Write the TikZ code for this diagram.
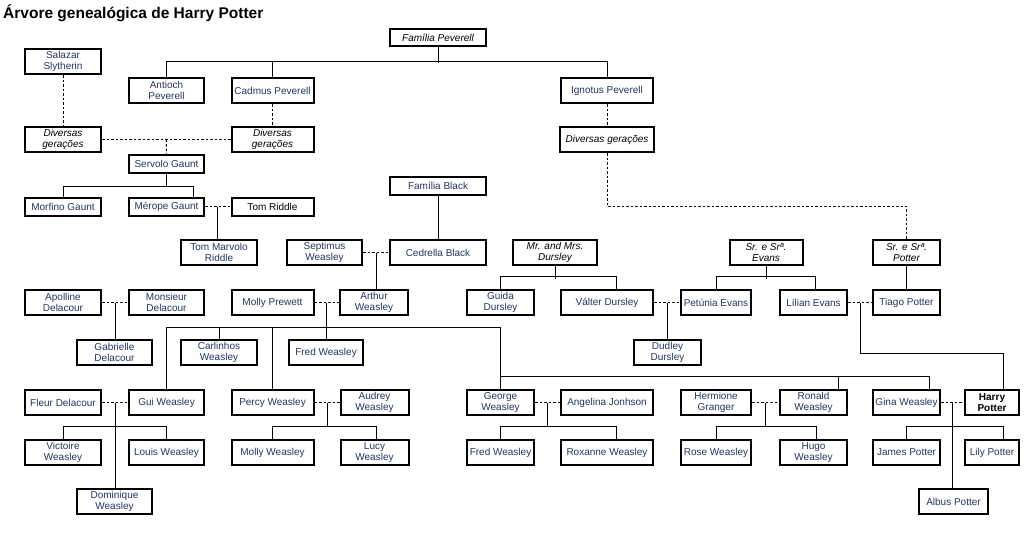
\documentclass[tikz,border=0pt]{standalone}
\usepackage{fontspec}
\setmainfont{Liberation Sans}
\usetikzlibrary{calc}
\definecolor{nameblue}{RGB}{38,52,96}
\newcommand{\namesize}{\fontsize{10}{10.5}\selectfont}
\begin{document}
\begin{tikzpicture}[x=1pt,y=-1pt,
	member/.style={draw, line width=2pt, fill=white, minimum width=#1, minimum height=25, inner sep=1pt, align=center, text=nameblue, font=\namesize},
	member/.default=76,
	short/.style={member=#1, minimum height=18},
	group/.style={member=#1, text=black, font=\namesize\itshape},
	kin/.style={line width=1pt},
	marriage/.style={line width=1pt, dash pattern=on 2.5pt off 2pt}
	]
	\useasboundingbox (0,0) rectangle (1024,544);
	\node[anchor=base west, inner sep=0, font=\fontsize{15.5}{18}\selectfont\bfseries] (title) at (3,18.5) {Árvore genealógica de Harry Potter};

	\node[group=95.5, minimum height=17] (peverell) at (438,37.5) {Família Peverell};
	\node[member=76] (salazar) at (63,61.5) {Salazar\\Slytherin};
	\node[member=75] (antioch) at (166.5,90.5) {Antioch\\Peverell};
	\node[member=82] (cadmus) at (272.5,90.5) {Cadmus Peverell};
	\node[member=92] (ignotus) at (607,90.5) {Ignotus Peverell};
	\node[group=76] (divL) at (63,139.5) {Diversas\\gerações};
	\node[group=82] (divM) at (272.5,139.5) {Diversas\\gerações};
	\node[group=94] (divR) at (607,139.5) {Diversas gerações};
	\node[short=75] (servolo) at (166.5,163.5) {Servolo Gaunt};
	\node[short=96] (black) at (438,185.5) {Família Black};
	\node[short=76] (morfino) at (63,206.5) {Morfino Gaunt};
	\node[short=75] (merope) at (166.5,206.5) {Mérope Gaunt};
	\node[short=82, text=black] (tomriddle) at (272.5,206.5) {Tom Riddle};

	\node[member=76] (voldemort) at (219,252.5) {Tom Marvolo\\Riddle};
	\node[member=75] (septimus) at (324.5,252.5) {Septimus\\Weasley};
	\node[member=96] (cedrella) at (438,252.5) {Cedrella Black};
	\node[group=84] (dursleys) at (555,252.5) {Mr. and Mrs.\\Dursley};
	\node[group=73] (evans) at (766,252.5) {Sr. e Srª.\\Evans};
	\node[group=67] (potters) at (906.5,252.5) {Sr. e Srª.\\Potter};

	\node[member=76] (apolline) at (63,302.5) {Apolline\\Delacour};
	\node[member=75] (monsieur) at (166.5,302.5) {Monsieur\\Delacour};
	\node[member=82] (mollyp) at (272.5,302.5) {Molly Prewett};
	\node[member=68] (arthur) at (374,302.5) {Arthur\\Weasley};
	\node[member=67] (guida) at (500.5,302.5) {Guida\\Dursley};
	\node[member=92] (valter) at (607,302.5) {Válter Dursley};
	\node[member=70] (petunia) at (716,302.5) {Petúnia Evans};
	\node[member=67] (lilian) at (813.5,302.5) {Lílian Evans};
	\node[member=67] (tiago) at (906.5,302.5) {Tiago Potter};

	\node[member=75] (gabrielle) at (114.5,352.5) {Gabrielle\\Delacour};
	\node[member=76] (carlinhos) at (219,352.5) {Carlinhos\\Weasley};
	\node[member=74] (fred) at (326,352.5) {Fred Weasley};
	\node[member=67] (dudley) at (667.5,352.5) {Dudley\\Dursley};

	\node[member=76] (fleur) at (63,402.5) {Fleur Delacour};
	\node[member=75] (gui) at (166.5,402.5) {Gui Weasley};
	\node[member=82] (percy) at (272.5,402.5) {Percy Weasley};
	\node[member=68] (audrey) at (374.5,402.5) {Audrey\\Weasley};
	\node[member=67] (george) at (500.5,402.5) {George\\Weasley};
	\node[member=92] (angelina) at (607,402.5) {Angelina Jonhson};
	\node[member=70] (hermione) at (716,402.5) {Hermione\\Granger};
	\node[member=67] (ronald) at (813.5,402.5) {Ronald\\Weasley};
	\node[member=67] (gina) at (906.5,402.5) {Gina Weasley};
	\node[member=54, text=black, font=\namesize\bfseries] (harry) at (992,402.5) {Harry\\Potter};

	\node[member=76] (victoire) at (63,452.5) {Victoire\\Weasley};
	\node[member=75] (louis) at (166.5,452.5) {Louis Weasley};
	\node[member=82] (mollyw) at (272.5,452.5) {Molly Weasley};
	\node[member=68] (lucy) at (374.5,452.5) {Lucy\\Weasley};
	\node[member=67] (fredII) at (500.5,452.5) {Fred Weasley};
	\node[member=92] (roxanne) at (607,452.5) {Roxanne Weasley};
	\node[member=70] (rose) at (716,452.5) {Rose Weasley};
	\node[member=67] (hugo) at (813.5,452.5) {Hugo\\Weasley};
	\node[member=67] (james) at (906.5,452.5) {James Potter};
	\node[member=54] (lily) at (992,452.5) {Lily Potter};
	\node[member=75] (dominique) at (114.5,501.5) {Dominique\\Weasley};
	\node[member=69] (albus) at (953.5,501.5) {Albus Potter};

	\coordinate (sc) at ($(divL.east)!.5!(divM.west)$);
	\coordinate (mt) at ($(merope.east)!.5!(tomriddle.west)$);
	\coordinate (sb) at ($(septimus.east)!.5!(cedrella.west)$);
	\coordinate (ad) at ($(apolline.east)!.5!(monsieur.west)$);
	\coordinate (ma) at ($(mollyp.east)!.5!(arthur.west)$);
	\coordinate (vp) at ($(valter.east)!.5!(petunia.west)$);
	\coordinate (lt) at ($(lilian.east)!.5!(tiago.west)$);
	\coordinate (fg) at ($(fleur.east)!.5!(gui.west)$);
	\coordinate (pa) at ($(percy.east)!.5!(audrey.west)$);
	\coordinate (ga) at ($(george.east)!.5!(angelina.west)$);
	\coordinate (hr) at ($(hermione.east)!.5!(ronald.west)$);
	\coordinate (gh) at ($(gina.east)!.5!(harry.west)$);

	\draw[kin] (peverell.south) -- ++(0,15.5);
	\draw[kin] (antioch.north) -- ++(0,-15.5) -| (ignotus.north);
	\draw[kin] (cadmus.north) -- ++(0,-15.5);
	\draw[marriage] (salazar) -- (divL);
	\draw[marriage] (cadmus) -- (divM);
	\draw[marriage] (divL) -- (divM);
	\draw[marriage] (sc) -- (servolo);
	\draw[kin] (servolo.south) -- ++(0,13.5);
	\draw[kin] (morfino.north) -- ++(0,-10.5) -| ([xshift=-12pt]merope.north east);
	\draw[marriage] (merope) -- (tomriddle);
	\draw[kin] (mt) -- (mt |- voldemort.north);
	\draw[marriage] (ignotus) -- (divR);
	\draw[marriage] (divR.south) -- ++(0,53) -| (potters.north);
	\draw[kin] (black) -- (cedrella);
	\draw[marriage] (septimus) -- (cedrella);
	\draw[kin] (sb) -- (sb |- arthur.north);
	\draw[kin] (dursleys.south) -- ++(0,12.5);
	\draw[kin] (guida.north) -- ++(0,-12.5) -| ([xshift=9pt]valter.north);
	\draw[kin] (evans.south) -- ++(0,12.5);
	\draw[kin] (petunia.north) -- ++(0,-12.5) -| ([xshift=2pt]lilian.north);
	\draw[kin] (potters) -- (tiago);

	\draw[marriage] (apolline) -- (monsieur);
	\draw[kin] (ad) -- (ad |- gabrielle.north);
	\draw[marriage] (mollyp) -- (arthur);
	\draw[kin] (ma) -- (ma |- fred.north);
	\draw[kin] (gui.north) -- ++(0,-61.5) -| (george.north);
	\draw[kin] (carlinhos.north) -- ++(0,-11.5);
	\draw[kin] (percy.north) -- ++(0,-61.5);
	\draw[kin] (george.north) ++(0,-12.5) -| ([xshift=22.5pt]gina.north);
	\draw[kin] ([xshift=24.5pt]ronald.north) -- ++(0,-12.5);
	\draw[marriage] (valter) -- (petunia);
	\draw[kin] (vp) -- (vp |- dudley.north);
	\draw[marriage] (lilian) -- (tiago);
	\draw[kin] (lt) -- ++(0,51) -| ([xshift=11pt]harry.north);

	\draw[marriage] (fleur) -- (gui);
	\draw[kin] (fg) -- (fg |- dominique.north);
	\draw[kin] (victoire.north) -- ++(0,-12.5) -| (louis.north);
	\draw[marriage] (percy) -- (audrey);
	\draw[kin] (pa) -- ++(0,24.5);
	\draw[kin] (mollyw.north) -- ++(0,-12.5) -| ([xshift=1.5pt]lucy.north);
	\draw[marriage] (george) -- (angelina);
	\draw[kin] (ga) -- ++(0,24.5);
	\draw[kin] (fredII.north) -- ++(0,-12.5) -| ([xshift=9pt]roxanne.north);
	\draw[marriage] (hermione) -- (ronald);
	\draw[kin] (hr) -- ++(0,24.5);
	\draw[kin] (rose.north) -- ++(0,-12.5) -| ([xshift=2.5pt]hugo.north);
	\draw[marriage] (gina) -- (harry);
	\draw[kin] (gh) -- (gh |- albus.north);
	\draw[kin] (james.north) -- ++(0,-12.5) -| ([xshift=11pt]lily.north);
\end{tikzpicture}
\end{document}
